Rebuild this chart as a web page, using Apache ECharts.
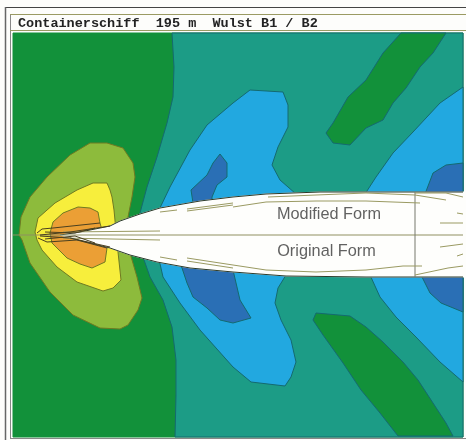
<!DOCTYPE html>
<html>
<head>
<meta charset="utf-8">
<style>html,body{margin:0;padding:0;background:#fdfdfb}#c{width:466px;height:440px}</style>
<script src="https://cdn.jsdelivr.net/npm/echarts@6/dist/echarts.min.js"></script>
</head>
<body>
<div id="c"></div>
<script>
// Contour regions, in the chart's own x/y units
const plotArea = [[13,33],[463,33],[463,437],[13,437]];
const tealRegion = [[172,33],[463,33],[463,437],[175,437],[176,395],[176,360],[172,327],[163,300],[150,277],[143,257],[140,235],[140,213],[147,187],[157,157],[167,123],[173,97],[174,67]];
const oliveRegion = [[107,143],[90,143],[70,155],[47,177],[30,197],[21,217],[19,235],[22,240],[30,263],[50,292],[73,315],[100,328],[120,329],[128,325],[138,310],[142,298],[137,277],[130,253],[128,217],[132,197],[135,177],[133,163],[123,148]];
const yellowRegion = [[107,183],[93,183],[77,190],[55,203],[38,218],[35,232],[37,240],[42,250],[57,267],[77,282],[103,291],[113,288],[121,280],[118,252],[114,210],[112,197],[110,190]];
const orangeRegion = [[90,208],[78,207],[63,213],[53,222],[50,233],[52,243],[67,258],[80,264],[92,268],[105,262],[107,248],[100,223],[98,212]];
const blueUpperMid = [[158,212],[170,187],[190,150],[207,125],[233,103],[250,90],[283,92],[288,105],[288,127],[278,147],[272,165],[280,180],[296,194],[296,215],[158,230]];
const deepUpperMid = [[220,154],[227,163],[227,177],[217,185],[212,197],[212,210],[193,210],[193,203],[191,190],[207,175],[213,163]];
const blueLowerMid = [[158,255],[163,277],[180,303],[200,330],[233,367],[251,382],[285,386],[291,377],[296,362],[291,340],[281,320],[275,303],[278,288],[286,275],[200,255]];
const deepLowerMid = [[180,262],[187,283],[193,297],[207,308],[220,320],[233,323],[251,318],[240,300],[233,270]];
const blueUpperRight = [[463,87],[440,103],[413,132],[393,153],[376,177],[365,194],[463,194]];
const deepUpperRight = [[463,163],[446,165],[433,173],[425,194],[463,194]];
const blueLowerRight = [[370,275],[380,297],[396,317],[416,337],[440,362],[463,382],[463,275]];
const deepLowerRight = [[421,275],[430,293],[441,303],[463,312],[463,275]];
const greenUpperRight = [[401,33],[446,33],[433,53],[420,67],[406,88],[393,103],[383,120],[366,128],[350,145],[333,143],[326,133],[333,123],[348,97],[366,80],[383,53]];
const greenLowerRight = [[316,313],[350,316],[366,327],[383,342],[403,362],[418,380],[433,403],[446,423],[453,436],[398,436],[380,413],[361,390],[343,363],[323,335],[313,320]];
const hullUpperEdge = [[60,235],[80,232],[110,226],[120,221],[140,214],[160,208],[200,201],[233,197],[266,194],[320,192],[463,192]];
const hullLowerEdge = [[463,277],[366,277],[286,276],[233,272],[190,268],[157,262],[130,255],[110,248],[70,238]];
const hullRightEnd = [[466,192],[466,277]];

// Ship lines
const centreLine = [[13,235],[463,235]];
const stationLine = [[415,192],[415,277]];
const shipLines = [
  [[160,212],[177,210]], [[187,211],[233,205]], [[187,209],[233,203]],
  [[233,207],[266,202],[316,201],[366,201],[420,203]],
  [[268,197],[316,195],[366,193],[415,195],[446,200]],
  [[415,193],[446,193],[463,197]],
  [[63,232],[160,231]], [[63,238],[160,240]],
  [[160,257],[177,260]], [[187,258],[233,265]], [[187,261],[233,268]],
  [[233,265],[266,270],[316,272],[366,270],[403,266],[422,266]],
  [[415,275],[448,268],[463,266]],
  [[440,223],[463,223]], [[457,213],[463,214]], [[440,247],[463,244]], [[457,256],[463,254]]
];
const bulbLines = [
  [[37,233],[42,229],[53,228],[100,223]],
  [[38,238],[47,242],[77,240],[107,248]],
  [[40,235],[70,232],[110,226]],
  [[40,236],[70,238],[110,247]],
  [[45,232],[75,233],[95,228]],
  [[45,239],[75,236],[95,243]]
];

const chartTitle = 'Containerschiff  195 m  Wulst B1 / B2';
const formLabels = ['Modified Form', 'Original Form'];
const formLabelPoints = [[329,215],[326.5,252]];

const dark = '#12913a', teal = '#1c9c86', sky = '#22a8e0', deep = '#2a6fb5',
      olive = '#8dbb3c', yellow = '#f7ee3c', orange = '#eb9f35';
const edgeBlue = '#146a70', edgeWarm = '#6f7a22';

const hullOutline = hullUpperEdge.concat(hullRightEnd, hullLowerEdge);

const layers = [
  [plotArea, dark, dark],
  [tealRegion, teal, edgeBlue],
  [oliveRegion, olive, edgeWarm],
  [yellowRegion, yellow, edgeWarm],
  [orangeRegion, orange, edgeWarm],
  [blueUpperMid, sky, edgeBlue],
  [deepUpperMid, deep, edgeBlue],
  [blueLowerMid, sky, edgeBlue],
  [deepLowerMid, deep, edgeBlue],
  [blueUpperRight, sky, edgeBlue],
  [deepUpperRight, deep, edgeBlue],
  [blueLowerRight, sky, edgeBlue],
  [deepLowerRight, deep, edgeBlue],
  [greenUpperRight, dark, edgeBlue],
  [greenLowerRight, dark, edgeBlue],
  [hullOutline, '#fefefc', '#fefefc']
];

const polylines = [
  [hullUpperEdge, '#2b3a2a', 1],
  [hullLowerEdge, '#2b3a2a', 1],
  [centreLine, '#8f9060', 1.2],
  [stationLine, '#77786c', 1]
].concat(shipLines.map(l => [l, '#9a9a62', 1]))
 .concat(bulbLines.map(l => [l, '#4a4020', 1]));

const chart = echarts.init(document.getElementById('c'), null, {renderer: 'canvas'});
chart.setOption({
  animation: false,
  backgroundColor: '#fdfdfb',
  title: {
    text: chartTitle, left: 13, top: 12,
    textStyle: {fontFamily: '"Liberation Mono", monospace', fontWeight: 'bold', fontSize: 13.5, color: '#222', lineHeight: 14}
  },
  grid: {left: 0, right: 0, top: 0, bottom: 0},
  xAxis: {type: 'value', min: 0, max: 466, show: false},
  yAxis: {type: 'value', min: 0, max: 440, inverse: true, show: false},
  graphic: [
    {type: 'line', silent: true, shape: {x1: 6, y1: 7.5, x2: 466, y2: 7.5}, style: {stroke: '#444', lineWidth: 1}},
    {type: 'line', silent: true, shape: {x1: 5.5, y1: 7, x2: 5.5, y2: 440}, style: {stroke: '#666', lineWidth: 1.5}},
    {type: 'line', silent: true, shape: {x1: 10.5, y1: 14, x2: 10.5, y2: 439}, style: {stroke: '#888', lineWidth: 1}},
    {type: 'line', silent: true, shape: {x1: 10, y1: 14.5, x2: 466, y2: 14.5}, style: {stroke: '#9a9a62', lineWidth: 1}},
    {type: 'line', silent: true, shape: {x1: 10, y1: 30.5, x2: 466, y2: 30.5}, style: {stroke: '#9a9a62', lineWidth: 1}},
    {type: 'line', silent: true, shape: {x1: 10, y1: 438.5, x2: 466, y2: 438.5}, style: {stroke: '#888', lineWidth: 1}}
  ],
  series: [
    {
      type: 'custom', coordinateSystem: 'cartesian2d', silent: true, clip: false,
      data: layers.map((l, i) => [i]),
      encode: {x: [], y: []},
      renderItem(params, api) {
        const l = layers[api.value(0)];
        return {
          type: 'polygon',
          shape: {points: l[0].map(p => api.coord(p))},
          style: {fill: l[1], stroke: l[2], lineWidth: 1}
        };
      }
    },
    {
      type: 'custom', coordinateSystem: 'cartesian2d', silent: true, clip: false, z: 3,
      data: polylines.map((l, i) => [i]),
      encode: {x: [], y: []},
      renderItem(params, api) {
        const l = polylines[api.value(0)];
        return {
          type: 'polyline',
          shape: {points: l[0].map(p => api.coord(p))},
          style: {fill: null, stroke: l[1], lineWidth: l[2]}
        };
      }
    },
    {
      type: 'scatter', symbolSize: 0, silent: true, z: 4,
      data: formLabelPoints.map((p, i) => ({value: p, name: formLabels[i]})),
      label: {
        show: true, position: 'inside', formatter: '{b}',
        fontFamily: '"Liberation Sans", Arial, sans-serif', fontSize: 16.3, color: '#3a3a3a'
      }
    }
  ]
});
</script>
</body>
</html>
